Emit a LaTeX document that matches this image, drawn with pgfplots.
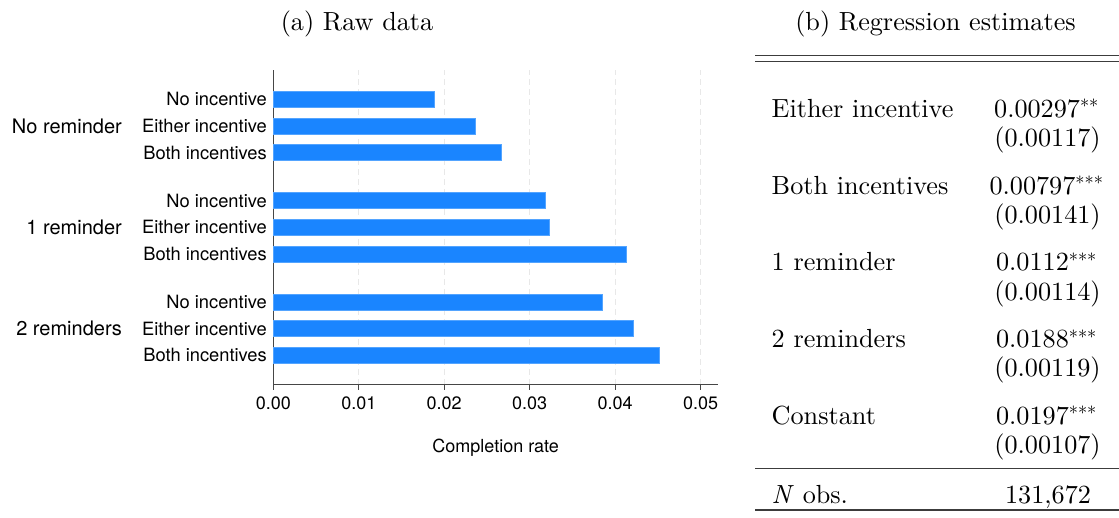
\RequirePackage{fix-cm}
\documentclass[border=0pt]{standalone}
\usepackage{fontspec}
\setmainfont{lmroman10-regular.otf}[ItalicFont=lmroman10-italic.otf]
\setsansfont{TeX Gyre Heros}
\usepackage{pgfplots}
\pgfplotsset{compat=1.18}
\definecolor{barblue}{RGB}{26,133,255}
\definecolor{axgray}{RGB}{70,70,70}
\definecolor{gridgray}{RGB}{232,232,232}
\definecolor{rulegray}{RGB}{60,60,60}
\newcommand{\sfs}{\sffamily\fontsize{18}{21}\selectfont}
\newcommand{\sfi}{\sffamily\fontsize{18.3}{21}\selectfont}
\newcommand{\sfg}{\sffamily\fontsize{20}{23}\selectfont}
\newcommand{\rms}{\rmfamily\fontsize{26.2}{30}\selectfont}
\begin{document}
\begin{tikzpicture}
\path[use as bounding box] (0,0) rectangle (1119pt,517pt);
\begin{axis}[
 at={(273.3pt,132.3pt)}, anchor=south west,
 scale only axis, width=444.7pt, height=314.7pt,
 xmin=0, xmax=0.05203, ymin=-1.1, ymax=10.7,
 axis lines*=left,
 axis line style={axgray, line width=1.2pt},
 xbar, bar width=16pt,
 scaled x ticks=false,
 xtick={0,0.01,0.02,0.03,0.04,0.05},
 xticklabels={0.00,0.01,0.02,0.03,0.04,0.05},
 xtick align=outside,
 major tick length=5pt,
 xtick style={axgray, line width=1pt},
 ytick style={draw=none},
 ytick={0,1,2,3.8,4.8,5.8,7.6,8.6,9.6},
 yticklabels={Both incentives,Either incentive,No incentive,Both incentives,Either incentive,No incentive,Both incentives,Either incentive,No incentive},
 yticklabel style={font=\sfi, inner sep=0pt, xshift=-1.3pt},
 xticklabel style={font=\sfs, inner sep=0pt, yshift=-7pt},
 xmajorgrids, major grid style={gridgray, line width=1.2pt, dash pattern=on 6pt off 4pt},
 clip=false,
 xlabel={Completion rate},
 xlabel style={font=\sfs, at={(axis description cs:0.5,0)}, anchor=center, yshift=-62.6pt},
]
\addplot[fill=barblue, draw=barblue!75!white, line width=0.6pt] coordinates {
 (0.01884,9.6) (0.0236,8.6) (0.02672,7.6)
 (0.03183,5.8) (0.0323,4.8) (0.04127,3.8)
 (0.0385,2) (0.04217,1) (0.04513,0)};
\node[font=\sfg, anchor=east, inner sep=0pt, xshift=-151.3pt] at (axis cs:0,8.6) {No reminder};
\node[font=\sfg, anchor=east, inner sep=0pt, xshift=-151.3pt] at (axis cs:0,4.8) {1 reminder};
\node[font=\sfg, anchor=east, inner sep=0pt, xshift=-151.3pt] at (axis cs:0,1) {2 reminders};
\end{axis}
% titles
\node[font=\rms, anchor=base, inner sep=0pt] at (357pt,486pt) {(a) Raw data};
\node[font=\rms, anchor=base, inner sep=0pt] at (935.5pt,486pt) {(b) Regression estimates};
% table rules
\draw[rulegray, line width=1.3pt] (755pt,461.3pt) -- (1119pt,461.3pt);
\draw[rulegray, line width=1.3pt] (755pt,455.3pt) -- (1119pt,455.3pt);
\draw[rulegray, line width=1.3pt] (755pt,48.7pt) -- (1119pt,48.7pt);
\draw[rulegray, line width=1.3pt] (755pt,7pt) -- (1119pt,7pt);
% table text
\begin{scope}[every node/.style={font=\rms, inner sep=0pt}]
\node[anchor=base west] at (771.5pt,399.5pt) {Either incentive};
\node[anchor=base] at (1046.5pt,399.5pt) {0.00297$^{**}$};
\node[anchor=base] at (1047.5pt,370.2pt) {(0.00117)};
\node[anchor=base west] at (771.5pt,322.8pt) {Both incentives};
\node[anchor=base] at (1046.5pt,322.8pt) {0.00797$^{***}$};
\node[anchor=base] at (1047.5pt,293.5pt) {(0.00141)};
\node[anchor=base west] at (771.5pt,246.1pt) {1 reminder};
\node[anchor=base] at (1046.5pt,246.1pt) {0.0112$^{***}$};
\node[anchor=base] at (1047.5pt,216.8pt) {(0.00114)};
\node[anchor=base west] at (771.5pt,169.4pt) {2 reminders};
\node[anchor=base] at (1046.5pt,169.4pt) {0.0188$^{***}$};
\node[anchor=base] at (1047.5pt,140.1pt) {(0.00119)};
\node[anchor=base west] at (771.5pt,92.7pt) {Constant};
\node[anchor=base] at (1046.5pt,92.7pt) {0.0197$^{***}$};
\node[anchor=base] at (1047.5pt,63.4pt) {(0.00107)};
\node[anchor=base west] at (771.5pt,13.7pt) {\textit{N} obs.};
\node[anchor=base] at (1048pt,13.7pt) {131,672};
\end{scope}
\end{tikzpicture}
\end{document}
